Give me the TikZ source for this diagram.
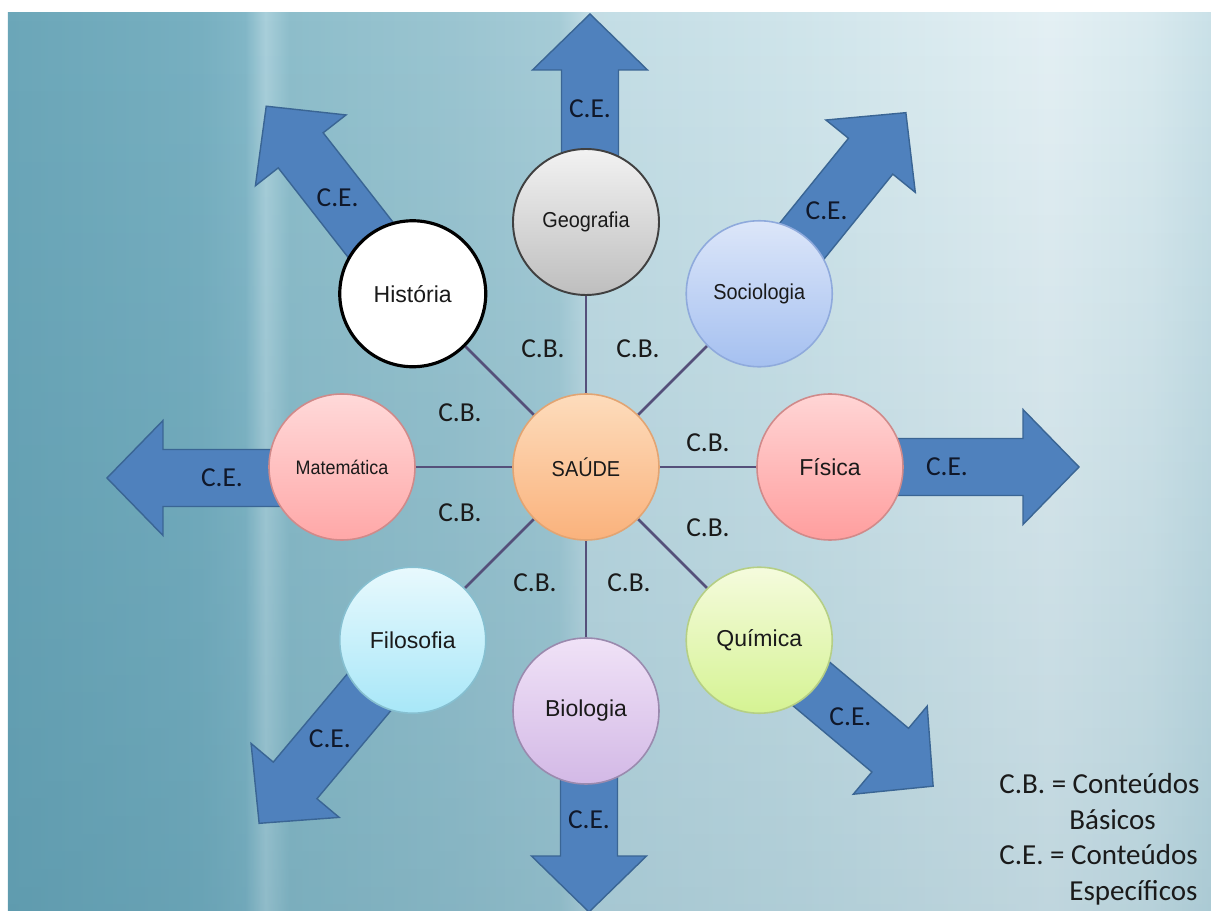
\documentclass[tikz,border=0pt]{standalone}
\usepackage{fontspec}
\setmainfont{Liberation Sans}
\newfontfamily\narrowfont[FakeStretch=0.92]{Liberation Sans}
\newfontfamily\calfont{Carlito}
\usetikzlibrary{backgrounds,calc,fadings}

\definecolor{bgA}{HTML}{6CA7B9}
\definecolor{bgB}{HTML}{78B0C1}
\definecolor{bgC}{HTML}{82B7C7}
\definecolor{bgD}{HTML}{A9CFDA}
\definecolor{bgE}{HTML}{8EBECB}
\definecolor{bgF}{HTML}{9BC5D1}
\definecolor{bgG}{HTML}{A6CCD7}
\definecolor{bgH}{HTML}{C3DDE5}
\definecolor{bgI}{HTML}{D0E5EB}
\definecolor{bgJ}{HTML}{E4F0F4}
\definecolor{bgK}{HTML}{D9EAEF}
\definecolor{bgL}{HTML}{CAE1E8}
\definecolor{bgdark}{HTML}{2F6F86}
\definecolor{cefill}{HTML}{4F81BD}
\definecolor{ceedge}{HTML}{3A6594}
\definecolor{cetext}{HTML}{10182A}
\definecolor{labeltext}{HTML}{1A1A1A}
\definecolor{linepurple}{HTML}{55507A}
\definecolor{sauTop}{HTML}{FDDCBC}
\definecolor{sauBot}{HTML}{FAB27C}
\definecolor{sauEdge}{HTML}{E2A472}
\definecolor{geoTop}{HTML}{F2F2F2}
\definecolor{geoBot}{HTML}{BEBEBE}
\definecolor{geoEdge}{HTML}{404040}
\definecolor{socTop}{HTML}{DCE6F9}
\definecolor{socBot}{HTML}{A5C0F0}
\definecolor{socEdge}{HTML}{8FAADC}
\definecolor{fisTop}{HTML}{FFD5D5}
\definecolor{fisBot}{HTML}{FF9E9E}
\definecolor{fisEdge}{HTML}{D08A8A}
\definecolor{quiTop}{HTML}{F5FBDD}
\definecolor{quiBot}{HTML}{D5F393}
\definecolor{quiEdge}{HTML}{B5CF85}
\definecolor{bioTop}{HTML}{F0E2F7}
\definecolor{bioBot}{HTML}{D3B9E6}
\definecolor{bioEdge}{HTML}{9A8AAE}
\definecolor{filTop}{HTML}{E8F9FD}
\definecolor{filBot}{HTML}{A8E7F8}
\definecolor{filEdge}{HTML}{86BFD0}

\pgfdeclarehorizontalshading{bgwall}{100bp}{color(0bp)=(bgA); color(25bp)=(bgA); color(33bp)=(bgB);
  color(34.85bp)=(bgC); color(35.7bp)=(bgD); color(36.7bp)=(bgE); color(43.4bp)=(bgF);
  color(47.9bp)=(bgG); color(49.2bp)=(bgH); color(57.9bp)=(bgI); color(68.3bp)=(bgJ);
  color(72.5bp)=(bgK); color(75bp)=(bgL); color(100bp)=(bgL)}

% origin, angle, length, label distance, label name
\newcommand{\cearrow}[5]{%
  \begin{scope}[shift={(#1)}, rotate=#2]
    \filldraw[cearrowbody] (0,-0.57) -- ({#3-1.12},-0.57) -- ({#3-1.12},-1.15) -- (#3,0)
      -- ({#3-1.12},1.15) -- ({#3-1.12},0.57) -- (0,0.57) -- cycle;
    \node[celabel] (#5) at (#4,0) {C.E.};
  \end{scope}}

\begin{document}
\begin{tikzpicture}[every node/.style={text=labeltext},
  subj/.style={circle, draw, line width=0.9pt, minimum size=2.92cm, inner sep=0pt, font=\fontsize{13.1}{15}\selectfont},
  subjnarrow/.style={subj, font=\narrowfont\fontsize{12.3}{14}\selectfont},
  cbline/.style={draw=linepurple, line width=1.6pt},
  cblabel/.style={font=\calfont\fontsize{15.6}{18}\selectfont},
  celabel/.style={font=\calfont\fontsize{15.6}{18}\selectfont, text=cetext},
  cearrowbody/.style={fill=cefill, draw=ceedge, line width=0.8pt},
  legend/.style={font=\calfont\fontsize{16.5}{20}\selectfont, anchor=base west, inner sep=0pt}]
	\useasboundingbox (-11.72,-8.88) rectangle (12.50,9.34);
	\begin{pgfonlayer}{background}
		\fill[white] (-11.72,-8.88) rectangle (12.50,9.34);
		\shade[shading=bgwall] (-11.56,-8.88) rectangle (12.50,9.08);
		\fill[bgdark, path fading=north, opacity=0.2] (-11.56,-8.88) rectangle (12.50,9.08);
	\end{pgfonlayer}
	% subjects around the centre
	\node[subjnarrow, top color=sauTop, bottom color=sauBot, draw=sauEdge] (sau) at (0,0) {SAÚDE};
	\node[subjnarrow, top color=geoTop, bottom color=geoBot, draw=geoEdge, line width=1.1pt] (geo) at (90:4.9) {Geografia};
	\node[subjnarrow, top color=socTop, bottom color=socBot, draw=socEdge] (soc) at (45:4.9) {Sociologia};
	\node[subj, top color=fisTop, bottom color=fisBot, draw=fisEdge] (fis) at (0:4.88) {Física};
	\node[subj, top color=quiTop, bottom color=quiBot, draw=quiEdge] (qui) at (-45:4.9) {Química};
	\node[subj, top color=bioTop, bottom color=bioBot, draw=bioEdge] (bio) at (-90:4.88) {Biologia};
	\node[subj, top color=filTop, bottom color=filBot, draw=filEdge] (fil) at (-135:4.9) {Filosofia};
	\node[subjnarrow, font=\narrowfont\fontsize{11.1}{13}\selectfont, top color=fisTop!90!white, bottom color=fisBot!90!white, draw=fisEdge] (mat) at (180:4.88) {Matemática};
	\node[subj, fill=white, draw=black, line width=1.8pt] (his) at (135:4.9) {História};
	\begin{pgfonlayer}{background}
		\cearrow{$(geo.center)+(0.08,0)$}{90}{4.16}{2.26}{geoce}
		\cearrow{soc.center}{51}{4.66}{2.14}{socce}
		\cearrow{fis.center}{0}{4.98}{2.34}{fisce}
		\cearrow{qui.center}{-40}{4.54}{2.38}{quice}
		\cearrow{$(bio.center)+(0.06,0)$}{-90}{4.02}{2.18}{bioce}
		\cearrow{fil.center}{230}{4.78}{2.58}{filce}
		\cearrow{$(mat.center)+(0,-0.22)$}{180}{4.70}{2.40}{matce}
		\cearrow{his.center}{128}{4.76}{2.44}{hisce}
		\draw[cbline] (sau) -- (geo);
		\draw[cbline] (sau) -- (soc);
		\draw[cbline] (sau) -- (fis);
		\draw[cbline] (sau) -- (qui);
		\draw[cbline] (sau) -- (bio);
		\draw[cbline] (sau) -- (fil);
		\draw[cbline] (sau) -- (mat);
		\draw[cbline] (sau) -- (his);
	\end{pgfonlayer}
	\node[cblabel] (cbhg) at (-0.86,2.36) {C.B.};
	\node[cblabel] (cbgs) at (1.04,2.36) {C.B.};
	\node[cblabel] (cbmh) at (-2.52,1.08) {C.B.};
	\node[cblabel] (cbsf) at (2.44,0.48) {C.B.};
	\node[cblabel] (cbmf) at (-2.52,-0.92) {C.B.};
	\node[cblabel] (cbfq) at (2.44,-1.22) {C.B.};
	\node[cblabel] (cbfb) at (-1.02,-2.32) {C.B.};
	\node[cblabel] (cbbq) at (0.86,-2.32) {C.B.};
	% legend
	\node[legend] (legcb) at (8.26,-6.52) {C.B. = Conteúdos};
	\node[legend] (legcbb) at (9.66,-7.24) {Básicos};
	\node[legend] (legce) at (8.26,-7.94) {C.E. = Conteúdos};
	\node[legend] (legceb) at (9.66,-8.66) {Específicos};
\end{tikzpicture}
\end{document}
